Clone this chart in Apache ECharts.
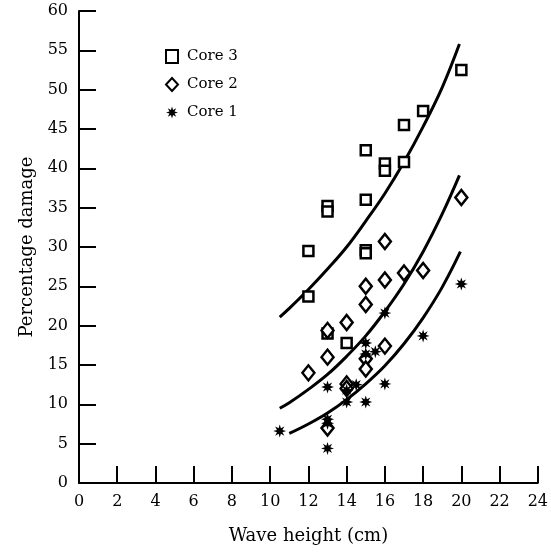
<!DOCTYPE html>
<html>
<head>
<meta charset="utf-8">
<script src="https://cdn.jsdelivr.net/npm/echarts@6/dist/echarts.min.js"></script>
<style>
html,body{margin:0;padding:0;background:#fff;}
#chart{width:551px;height:556px;}
</style>
</head>
<body>
<div id="chart"></div>
<script>
// Tick values
var xTicks = [0, 2, 4, 6, 8, 10, 12, 14, 16, 18, 20, 22, 24];
var yTicks = [0, 5, 10, 15, 20, 25, 30, 35, 40, 45, 50, 55, 60];

// Core 3 (squares)
var core3X = [12, 12, 13, 13, 13, 14, 15, 15, 15, 15, 16, 16, 17, 17, 18, 20];
var core3Y = [29.5, 23.7, 35.2, 34.5, 19.0, 17.8, 42.3, 36.0, 29.6, 29.2, 40.6, 39.7, 45.5, 40.8, 47.3, 52.5];

// Core 2 (diamonds)
var core2X = [12, 13, 13, 13, 14, 14, 14, 15, 15, 15, 15, 16, 16, 16, 17, 18, 20];
var core2Y = [14.0, 19.4, 16.0, 7.0, 20.4, 12.6, 12.0, 25.0, 22.7, 15.8, 14.5, 30.7, 25.8, 17.4, 26.7, 27.0, 36.3];

// Core 1 (stars)
var core1X = [10.5, 13, 13, 13, 13, 14, 14, 14.5, 15, 15, 15, 15.5, 16, 16, 18, 20];
var core1Y = [6.6, 12.2, 8.1, 7.6, 4.4, 10.3, 11.8, 12.5, 17.8, 16.4, 10.3, 16.7, 21.6, 12.6, 18.7, 25.3];

// Fitted curves
var curve3X = [10.5, 11, 12, 13, 14, 15, 16, 17, 18, 19, 19.9];
var curve3Y = [21.1, 22.2, 24.6, 27.2, 30.0, 33.3, 36.8, 40.8, 45.3, 50.3, 55.8];
var curve2X = [10.5, 11, 12, 13, 14, 15, 16, 17, 18, 19, 19.9];
var curve2Y = [9.5, 10.2, 11.9, 13.8, 16.1, 18.7, 21.8, 25.3, 29.4, 34.2, 39.1];
var curve1X = [11, 12, 13, 14, 15, 16, 17, 18, 19, 19.95];
var curve1Y = [6.3, 7.5, 8.9, 10.6, 12.6, 14.9, 17.7, 21.0, 24.9, 29.4];

function pairs(xs, ys) {
  return xs.map(function (x, i) { return [x, ys[i]]; });
}

var starPath = 'path://M20 10 L14.2 11.8 L17.07 17.07 L11.8 14.2 L10 20 L8.2 14.2 L2.93 17.07 L5.8 11.8 L0 10 L5.8 8.2 L2.93 2.93 L8.2 5.8 L10 0 L11.8 5.8 L17.07 2.93 L14.2 8.2 Z';
var FONT = 'DejaVu Serif';

var chart = echarts.init(document.getElementById('chart'), null, {renderer: 'canvas'});

function curveSeries(name, xs, ys) {
  return {
    name: name,
    type: 'line',
    data: pairs(xs, ys),
    smooth: 0.4,
    showSymbol: false,
    silent: true,
    z: 2,
    lineStyle: {color: '#000', width: 3},
    itemStyle: {color: '#000'}
  };
}

chart.setOption({
  animation: false,
  backgroundColor: '#fff',
  grid: {left: 79, right: 11, top: 11, bottom: 73, containLabel: false},
  legend: {
    data: ['Core 3', 'Core 2', 'Core 1'],
    orient: 'vertical',
    left: 160,
    top: 44,
    itemWidth: 12,
    itemHeight: 13,
    itemGap: 13,
    selectedMode: false,
    textStyle: {fontFamily: FONT, fontSize: 15, color: '#000', padding: [0, 0, 0, 4]}
  },
  xAxis: {
    type: 'value',
    min: 0, max: 24, interval: 2,
    name: 'Wave height (cm)',
    nameLocation: 'middle',
    nameGap: 44,
    nameTextStyle: {fontFamily: FONT, fontSize: 18, color: '#000'},
    axisLine: {lineStyle: {color: '#000', width: 2}},
    axisTick: {inside: true, length: 17, lineStyle: {color: '#000', width: 2}},
    axisLabel: {
      fontFamily: FONT, fontSize: 16, color: '#000', margin: 11,
      showMinLabel: true, showMaxLabel: true,
      formatter: function (v) { return xTicks.indexOf(v) >= 0 ? String(v) : ''; }
    },
    splitLine: {show: false}
  },
  yAxis: {
    type: 'value',
    min: 0, max: 60, interval: 5,
    name: 'Percentage damage',
    nameLocation: 'middle',
    nameGap: 42,
    nameTextStyle: {fontFamily: FONT, fontSize: 18, color: '#000'},
    axisLine: {show: true, lineStyle: {color: '#000', width: 2}},
    axisTick: {show: true, inside: true, length: 17, lineStyle: {color: '#000', width: 2}},
    axisLabel: {
      fontFamily: FONT, fontSize: 16, color: '#000', margin: 11,
      showMinLabel: true, showMaxLabel: true,
      formatter: function (v) { return yTicks.indexOf(v) >= 0 ? String(v) : ''; }
    },
    splitLine: {show: false}
  },
  series: [
    curveSeries('fit3', curve3X, curve3Y),
    curveSeries('fit2', curve2X, curve2Y),
    curveSeries('fit1', curve1X, curve1Y),
    {
      name: 'Core 3',
      type: 'scatter',
      z: 5,
      symbol: 'rect',
      symbolSize: 10,
      data: pairs(core3X, core3Y),
      itemStyle: {color: '#fff', borderColor: '#000', borderWidth: 2.5, opacity: 1}
    },
    {
      name: 'Core 2',
      type: 'scatter',
      z: 5,
      symbol: 'diamond',
      symbolSize: [12, 15],
      data: pairs(core2X, core2Y),
      itemStyle: {color: '#fff', borderColor: '#000', borderWidth: 2.5, opacity: 1}
    },
    {
      name: 'Core 1',
      type: 'scatter',
      z: 6,
      symbol: starPath,
      symbolSize: 13,
      data: pairs(core1X, core1Y),
      itemStyle: {color: '#000', opacity: 1}
    }
  ]
});
</script>
</body>
</html>
